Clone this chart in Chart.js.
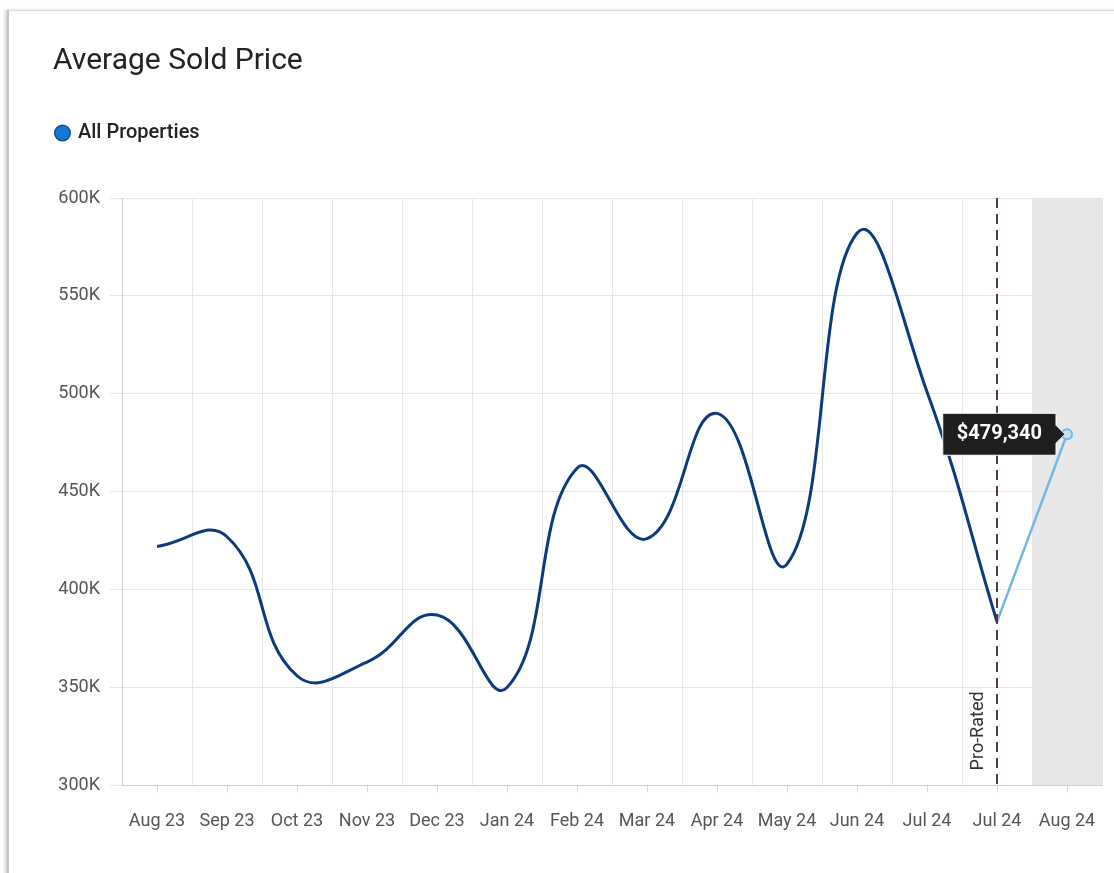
<!DOCTYPE html>
<html>
<head>
<meta charset="utf-8">
<script src="https://cdn.jsdelivr.net/npm/chart.js@4"></script>
<style>
  html, body { margin: 0; padding: 0; background: #fff; }
  body { width: 1114px; height: 873px; position: relative; overflow: hidden; font-family: Roboto, sans-serif; }
  .card { position: absolute; left: 7px; top: 10px; width: 1120px; height: 880px;
          border: 1px solid #dcdcdc; border-left: 2px solid #c4c4c4;
          box-shadow: -2px 0 3px rgba(0,0,0,0.18); }
  .wrap { position: absolute; left: 0; top: 0; width: 1114px; height: 873px; }
</style>
</head>
<body>
<div class="card"></div>
<div class="wrap"><canvas id="myChart"></canvas></div>
<script>
// months on the x axis (the second "Jul 24" is the pro-rated month)
var months = ["Aug 23", "Sep 23", "Oct 23", "Nov 23", "Dec 23", "Jan 24", "Feb 24",
              "Mar 24", "Apr 24", "May 24", "Jun 24", "Jul 24", "Jul 24", "Aug 24"];

// average sold price
var soldPrice = [422000, 427000, 356000, 363000, 387000, 350000, 462000,
                 426000, 490000, 413000, 582000, 501000, 383500, null];

// projected part (light blue), pro-rated Jul 24 -> Aug 24
var projected = [null, null, null, null, null, null, null,
                 null, null, null, null, null, 383500, 479340];

var yTicks = { min: 300000, max: 600000, step: 50000 };

var proRatedIndex = 12;
var shadedIndex = 13;

// gray band behind the last month, dashed "Pro-Rated" marker
var decorations = {
    id: 'decorations',
    beforeDraw: function(chart) {
        var ctx = chart.ctx, area = chart.chartArea, x = chart.scales.x;
        var left = (x.getPixelForValue(shadedIndex - 1) + x.getPixelForValue(shadedIndex)) / 2;
        ctx.save();
        ctx.fillStyle = '#e8e8e8';
        ctx.fillRect(left, area.top, area.right - left, area.bottom - area.top);
        ctx.restore();
    },
    afterDatasetsDraw: function(chart) {
        var ctx = chart.ctx, area = chart.chartArea;
        var px = chart.scales.x.getPixelForValue(proRatedIndex);
        ctx.save();
        ctx.strokeStyle = '#5a3a40';
        ctx.lineWidth = 2;
        ctx.setLineDash([10, 6]);
        ctx.beginPath();
        ctx.moveTo(px, area.top);
        ctx.lineTo(px, area.bottom + 2);
        ctx.stroke();
        ctx.setLineDash([]);
        ctx.translate(px - 19, area.bottom - 15);
        ctx.rotate(-Math.PI / 2);
        ctx.fillStyle = '#333';
        ctx.font = '18px Roboto';
        ctx.textAlign = 'left';
        ctx.textBaseline = 'middle';
        ctx.fillText('Pro-Rated', 0, 0);
        ctx.restore();
    }
};

// extra room under the legend
var legendGap = {
    id: 'legendGap',
    beforeInit: function(chart) {
        var fit = chart.legend.fit;
        chart.legend.fit = function() {
            fit.call(this);
            this.height += 45;
        };
    }
};

var pointSizes = projected.map(function(v, i) { return i === shadedIndex ? 5 : 0; });

var ctx = document.getElementById("myChart").getContext("2d");
var myChart = new Chart(ctx, {
    type: 'line',
    data: {
        labels: months,
        datasets: [
            {
            label: "All Properties",
            data: soldPrice,
            borderColor: "#0c3b7c",
            backgroundColor: "#1677d2",
            borderWidth: 3,
            tension: 0.45,
            pointRadius: 0,
            pointHoverRadius: 0,
            spanGaps: false
            },
            {
            label: "Projected",
            data: projected,
            borderColor: "#72b6e4",
            backgroundColor: "#c6e3f6",
            borderWidth: 2.5,
            tension: 0.45,
            pointRadius: pointSizes,
            pointHoverRadius: pointSizes,
            pointBorderWidth: 2,
            pointHoverBorderWidth: 2,
            pointBackgroundColor: "#c6e3f6",
            pointHoverBackgroundColor: "#c6e3f6",
            pointBorderColor: "#72b6e4",
            pointHoverBorderColor: "#72b6e4"
            }]
    },
    options: {
        responsive: true,
        maintainAspectRatio: false,
        animation: false,
        events: [],
        layout: { padding: { left: 53, right: 12, top: 0, bottom: 23 } },
        plugins: {
            title: {
                display: true,
                text: "Average Sold Price",
                align: 'start',
                color: '#222',
                font: { family: 'Roboto', size: 30, weight: 'normal' },
                padding: { top: 43, bottom: 40 }
            },
            legend: {
                display: true,
                position: 'top',
                align: 'start',
                labels: {
                    padding: 4,
                    usePointStyle: true,
                    boxWidth: 11,
                    boxHeight: 11,
                    color: '#222',
                    font: { family: 'Roboto', size: 20, weight: 500 },
                    generateLabels: function() {
                        return [{
                            text: "All Properties",
                            fillStyle: "#1677d2",
                            strokeStyle: "#0d4f94",
                            lineWidth: 1.5,
                            pointStyle: 'circle',
                            fontColor: '#222',
                            datasetIndex: 0
                        }];
                    }
                }
            },
            tooltip: {
                enabled: true,
                xAlign: 'right',
                yAlign: 'center',
                backgroundColor: '#1e1e1e',
                borderColor: '#ffffff',
                borderWidth: 1,
                bodyColor: '#ffffff',
                bodyFont: { family: 'Roboto', size: 20, weight: 'bold' },
                padding: { top: 9, bottom: 9, left: 14, right: 14 },
                caretSize: 9,
                caretPadding: 2,
                cornerRadius: 1,
                displayColors: false,
                callbacks: {
                    title: function() { return ''; },
                    label: function(c) { return '$' + c.raw.toLocaleString('en-US'); }
                }
            }
        },
        scales: {
            x: {
                type: 'category',
                offset: true,
                grid: { offset: false, drawOnChartArea: false, tickLength: 7, color: '#d8d8d8' },
                border: { display: true, color: '#cfcfcf' },
                ticks: { color: '#555', font: { family: 'Roboto', size: 18 }, padding: 18,
                         maxRotation: 0, autoSkip: false }
            },
            xg: {
                type: 'category',
                position: 'bottom',
                offset: true,
                grid: { offset: true, drawTicks: false, color: '#e6e6e6' },
                border: { display: false },
                ticks: { display: false }
            },
            y: {
                min: yTicks.min,
                max: yTicks.max,
                grid: { color: '#e6e6e6', tickLength: 12 },
                border: { color: '#cfcfcf' },
                ticks: {
                    stepSize: yTicks.step,
                    padding: 10,
                    color: '#555',
                    font: { family: 'Roboto', size: 18 },
                    callback: function(v) { return (v / 1000) + 'K'; }
                },
                afterFit: function(scale) { scale.width = 69; }
            }
        }
    },
    plugins: [decorations, legendGap]
});

// show the hover box on the Aug 24 value, as in the picture
var active = [{ datasetIndex: 1, index: shadedIndex }];
myChart.setActiveElements(active);
myChart.tooltip.setActiveElements(active, { x: 0, y: 0 });
myChart.update();
</script>
</body>
</html>
